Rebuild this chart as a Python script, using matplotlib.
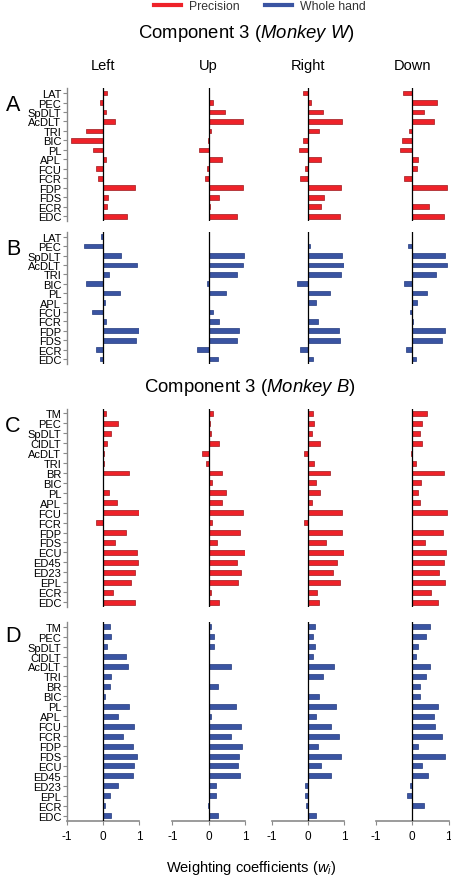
import matplotlib
matplotlib.use('Agg')
import matplotlib.pyplot as plt
from matplotlib.lines import Line2D

plt.rcParams['font.family'] = ['Liberation Sans', 'DejaVu Sans']
plt.rcParams['mathtext.fontset'] = 'custom'
plt.rcParams['mathtext.rm'] = 'Liberation Sans'
plt.rcParams['mathtext.it'] = 'Liberation Sans:italic'
plt.rcParams['axes.unicode_minus'] = False

directions = ['Left', 'Up', 'Right', 'Down']
xticks = [-1, 0, 1]

muscles_w = ['LAT', 'PEC', 'SpDLT', 'AcDLT', 'TRI', 'BIC', 'PL', 'APL',
             'FCU', 'FCR', 'FDP', 'FDS', 'ECR', 'EDC']
muscles_b = ['TM', 'PEC', 'SpDLT', 'ClDLT', 'AcDLT', 'TRI', 'BR', 'BIC', 'PL',
             'APL', 'FCU', 'FCR', 'FDP', 'FDS', 'ECU', 'ED45', 'ED23', 'EPL',
             'ECR', 'EDC']

# A - monkey W, precision grip
w_prec_left = [0.12, -0.07, 0.07, 0.34, -0.46, -0.88, -0.28, 0.08, -0.18, -0.13, 0.88, 0.13, 0.10, 0.65]
w_prec_up = [0.0, 0.12, 0.45, 0.94, 0.06, -0.03, -0.26, 0.36, -0.05, -0.10, 0.94, 0.30, 0.05, 0.77]
w_prec_right = [-0.15, 0.07, 0.42, 0.95, 0.29, -0.13, -0.25, 0.35, -0.08, -0.23, 0.92, 0.45, 0.35, 0.88]
w_prec_down = [-0.26, 0.69, 0.33, 0.59, -0.09, -0.28, -0.34, 0.17, 0.12, -0.23, 0.95, 0.0, 0.45, 0.87]

# B - monkey W, whole hand grip
w_whole_left = [-0.05, -0.51, 0.50, 0.94, 0.17, -0.48, 0.46, 0.05, -0.29, 0.09, 0.98, 0.90, -0.20, -0.07]
w_whole_up = [0.0, 0.0, 0.98, 0.94, 0.77, -0.04, 0.48, 0.02, 0.12, 0.28, 0.83, 0.77, -0.33, 0.27]
w_whole_right = [0.0, 0.06, 0.94, 0.99, 0.92, -0.29, 0.60, 0.22, -0.01, 0.28, 0.86, 0.89, -0.23, 0.13]
w_whole_down = [-0.02, -0.12, 0.90, 0.95, 0.64, -0.23, 0.40, 0.12, -0.07, 0.02, 0.90, 0.83, -0.18, 0.09]

# C - monkey B, precision grip
b_prec_left = [0.07, 0.40, 0.22, 0.10, 0.02, 0.02, 0.72, 0.01, 0.17, 0.39, 0.98, -0.18, 0.63, 0.33, 0.93, 0.96, 0.87, 0.76, 0.27, 0.88]
b_prec_up = [0.11, 0.03, 0.07, 0.28, -0.19, -0.07, 0.36, 0.09, 0.47, 0.38, 0.94, 0.10, 0.87, 0.24, 0.99, 0.77, 0.90, 0.80, 0.07, 0.28]
b_prec_right = [0.13, 0.17, 0.11, 0.34, -0.10, 0.16, 0.61, 0.22, 0.34, 0.10, 0.95, -0.10, 0.94, 0.50, 1.00, 0.80, 0.68, 0.88, 0.25, 0.30]
b_prec_down = [0.40, 0.28, 0.21, 0.28, -0.04, 0.11, 0.86, 0.25, 0.16, 0.20, 0.96, -0.01, 0.84, 0.35, 0.94, 0.87, 0.74, 0.91, 0.52, 0.71]

# D - monkey B, whole hand grip
b_whole_left = [0.19, 0.21, 0.10, 0.62, 0.70, 0.22, 0.18, 0.05, 0.72, 0.40, 0.85, 0.56, 0.83, 0.95, 0.85, 0.83, 0.42, 0.18, 0.06, 0.22]
b_whole_up = [0.07, 0.16, 0.16, 0.02, 0.63, 0.01, 0.27, 0.01, 0.76, 0.06, 0.89, 0.63, 0.92, 0.84, 0.82, 0.87, 0.21, 0.20, -0.02, 0.27]
b_whole_right = [0.19, 0.13, 0.20, 0.13, 0.71, 0.42, 0.0, 0.30, 0.76, 0.22, 0.62, 0.86, 0.28, 0.92, 0.37, 0.64, -0.08, -0.07, -0.06, 0.23]
b_whole_down = [0.50, 0.39, 0.15, 0.11, 0.49, 0.37, 0.21, 0.20, 0.72, 0.61, 0.63, 0.83, 0.17, 0.89, 0.27, 0.42, -0.07, -0.15, 0.32, 0.0]

RED, RED_EDGE = '#ee2229', '#9c1a1e'
BLUE, BLUE_EDGE = '#3a54a2', '#233a7e'
GRAY = '#8a8a8a'

W, H = 452, 879
fig = plt.figure(figsize=(W / 100, H / 100), dpi=100)

# layout in pixels
col_x = [66.7, 172.3, 271.7, 376.0]
col_w = 72.6
panels = [
    ('A', muscles_w, [w_prec_left, w_prec_up, w_prec_right, w_prec_down], RED, RED_EDGE, 89.3, 222.0, 106),
    ('B', muscles_w, [w_whole_left, w_whole_up, w_whole_right, w_whole_down], BLUE, BLUE_EDGE, 233.0, 364.7, 250),
    ('C', muscles_b, [b_prec_left, b_prec_up, b_prec_right, b_prec_down], RED, RED_EDGE, 409.5, 608.0, 427),
    ('D', muscles_b, [b_whole_left, b_whole_up, b_whole_right, b_whole_down], BLUE, BLUE_EDGE, 622.7, 821.7, 637),
]

for p, (letter, names, series, color, edge, top, bot, ly) in enumerate(panels):
    fig.text(13 / W, 1 - ly / H, letter, fontsize=15.5, ha='center', va='center')
    for j, vals in enumerate(series):
        ax = fig.add_axes([col_x[j] / W, 1 - bot / H, col_w / W, (bot - top) / H])
        ypos = list(range(len(names)))
        ax.barh(ypos, vals, height=0.5, color=color, edgecolor=edge, linewidth=0.5, zorder=2)
        ax.axvline(0, color='black', lw=0.9, zorder=3)
        ax.set_xlim(-1, 1)
        ax.set_ylim(len(names) - 0.5, -0.5)
        ax.patch.set_visible(False)
        ax.spines['top'].set_visible(False)
        ax.spines['right'].set_visible(False)
        if j == 0:
            ax.spines['left'].set_color(GRAY)
            ax.spines['left'].set_linewidth(1.0)
            ax.set_yticks(ypos)
            ax.set_yticklabels(names, fontsize=8)
            ax.tick_params(axis='y', length=3, width=0.8, color=GRAY, pad=1)
        else:
            ax.spines['left'].set_visible(False)
            ax.set_yticks([])
        if p == 3:
            ax.spines['bottom'].set_color(GRAY)
            ax.spines['bottom'].set_linewidth(1.2)
            ax.set_xticks(xticks)
            ax.set_xticklabels([str(t) for t in xticks], fontsize=8.5)
            ax.tick_params(axis='x', length=3, width=0.8, color=GRAY, pad=4)
        else:
            ax.spines['bottom'].set_visible(False)
            ax.set_xticks([])
        if p == 0:
            fig.text((col_x[j] + col_w / 2) / W, 1 - 66 / H, directions[j],
                     fontsize=10.5, ha='center', va='center')

fig.text(246 / W, 1 - 33 / H, r'Component 3 ($\mathit{Monkey\ W}$)',
         fontsize=13.3, ha='center', va='center')
fig.text(250 / W, 1 - 388 / H, r'Component 3 ($\mathit{Monkey\ B}$)',
         fontsize=13.3, ha='center', va='center')
fig.text(251 / W, 1 - 868 / H, r'Weighting coefficients ($w_i$)',
         fontsize=10.5, ha='center', va='center')

handles = [Line2D([], [], color=RED, lw=3), Line2D([], [], color=BLUE, lw=3)]
fig.legend(handles, ['Precision', 'Whole hand'], loc='center', ncol=2,
           bbox_to_anchor=(260 / W, 1 - 7 / H), frameon=False, fontsize=8.8,
           handlelength=2.2, handletextpad=0.65, columnspacing=2.1,
           labelcolor='#333333', borderpad=0)

fig.savefig('out.png', dpi=100)
